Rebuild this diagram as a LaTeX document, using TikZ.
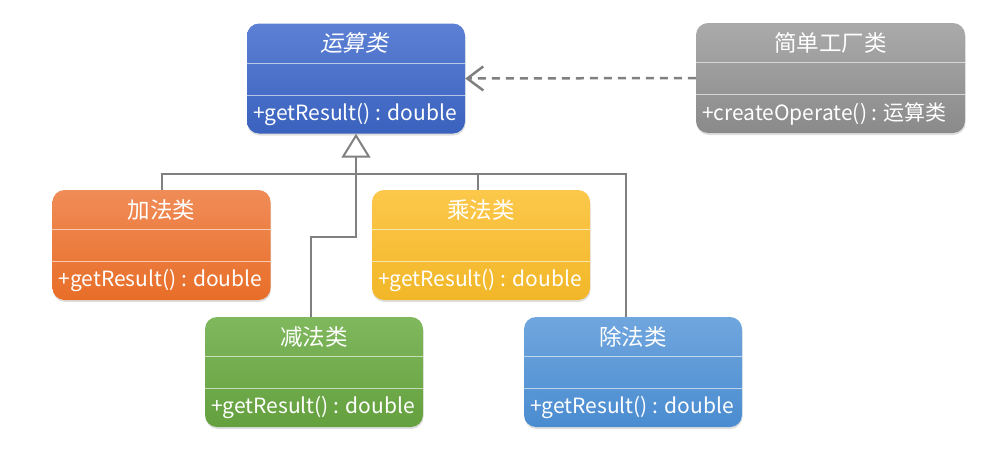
\documentclass[tikz,border=0pt]{standalone}
\usepackage{fontspec}
\setmainfont{Noto Sans CJK SC}
\usepackage{tikz}
\usetikzlibrary{shadows,arrows.meta}
\definecolor{linegray}{RGB}{128,128,128}
\definecolor{yuntop}{RGB}{92,128,212}
\definecolor{yunbot}{RGB}{58,98,190}
\definecolor{gongtop}{RGB}{170,170,170}
\definecolor{gongbot}{RGB}{138,138,138}
\definecolor{jiatop}{RGB}{240,140,88}
\definecolor{jiabot}{RGB}{232,110,40}
\definecolor{chengtop}{RGB}{252,200,75}
\definecolor{chengbot}{RGB}{242,183,40}
\definecolor{jiantop}{RGB}{128,184,94}
\definecolor{jianbot}{RGB}{100,160,62}
\definecolor{chutop}{RGB}{112,166,222}
\definecolor{chubot}{RGB}{74,140,208}
\tikzset{classbox/.style={rounded corners=12pt,minimum height=110pt,inner sep=0pt,
        drop shadow={opacity=0.25,shadow xshift=0.5pt,shadow yshift=-2pt}},
    sepline/.style={draw=white,opacity=0.6,line width=0.8pt},
    classtitle/.style={text=white,font=\fontsize{22.5}{26}\selectfont,inner sep=0pt},
    abstract/.style={xslant=0.22,transform shape},
    classop/.style={text=white,font=\fontsize{21}{25}\selectfont,inner sep=0pt,anchor=west},
    inherit/.style={draw=linegray,line width=2pt},
    depend/.style={draw=linegray,line width=2.5pt,dash pattern=on 8pt off 6pt}}
% [title style], name, x, y, width, colour, title, method
\newcommand{\umlclass}[8][]{%
    \node[classbox,minimum width=#5,top color=#6top,bottom color=#6bot] (#2) at (#3,#4) {};
    \draw[sepline] ([yshift=-40pt]#2.north west) -- ([yshift=-40pt]#2.north east);
    \draw[sepline] ([yshift=-72pt]#2.north west) -- ([yshift=-72pt]#2.north east);
    \node[classtitle,#1] (#2-title) at ([yshift=-20pt]#2.north) {#7};
    \node[classop] (#2-op) at ([xshift=6pt,yshift=-91pt]#2.north west) {#8};
}

\begin{document}
\begin{tikzpicture}[x=1pt,y=-1pt]
    \useasboundingbox (0,0) rectangle (991,450);
    \umlclass[abstract]{yun}{356}{78.5}{218pt}{yun}{运算类}{+getResult() : double}
    \umlclass{gong}{830.5}{78}{269pt}{gong}{简单工厂类}{+createOperate() : 运算类}
    \umlclass{jia}{161.5}{245}{218pt}{jia}{加法类}{+getResult() : double}
    \umlclass{cheng}{481}{245}{218pt}{cheng}{乘法类}{+getResult() : double}
    \umlclass{jian}{314}{372}{218pt}{jian}{减法类}{+getResult() : double}
    \umlclass{chu}{633}{372}{218pt}{chu}{除法类}{+getResult() : double}
    \coordinate (bar) at (356,174);
    \coordinate (bend) at (311,237);
    \draw[inherit] (jia.north) |- ([xshift=-7pt]chu.north |- bar) -- ([xshift=-7pt]chu.north);
    \draw[inherit] ([xshift=-3pt]cheng.north) -- ([xshift=-3pt]cheng.north |- bar);
    \draw[inherit,{Triangle[open,fill=white,length=24pt,width=29pt,line width=2pt]}-]
        (yun.south) |- (bend) -- (bend |- jian.north);
    \draw[depend,-{Straight Barb[length=16pt,width=24pt,line width=2.5pt]}] (gong.west) -- (yun.east);
\end{tikzpicture}
\end{document}
